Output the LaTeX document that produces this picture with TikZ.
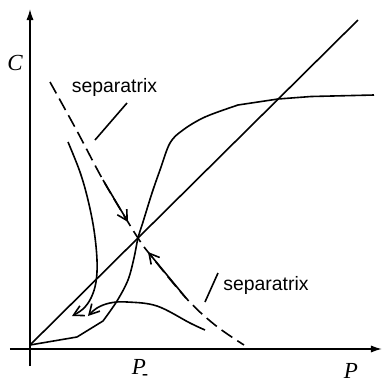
\documentclass[tikz,border=0pt]{standalone}
\usepackage{fontspec}
\setmainfont{Liberation Serif}
\setsansfont{Liberation Sans}
\usetikzlibrary{arrows.meta}

\begin{document}
\begin{tikzpicture}[x=0.5pt, y=-0.5pt, line width=0.75pt, line join=round]
        \tikzstyle{axis} = [line width=0.8pt, -{Latex[length=5.5pt, width=3.6pt]}]
        \tikzstyle{curve} = [line width=0.8pt]
        \tikzstyle{flow} = [curve, -{Straight Barb[length=5pt, width=5.5pt]}]
        \tikzstyle{sep} = [curve, dash pattern=on 6.5pt off 3pt]
        \tikzstyle{tag} = [font=\sffamily\fontsize{9.7}{11}\selectfont, inner sep=0pt, anchor=base]
        \tikzstyle{var} = [font=\itshape\fontsize{11.5}{13}\selectfont, inner sep=0pt, anchor=base]

        \useasboundingbox (0,0) rectangle (382,381);

        \coordinate (origin) at (30,345);
        \coordinate (saddle) at (138,238);

        % axes
        \draw [axis] (30,366) -- (30,9);
        \draw [axis] (10,349) -- (382,349);
        \node (C) [var] at (15,70) {C};
        \node (P) [var] at (351,378) {P};
        \node (Pm) [var] at (140,374) {P\kern-2pt\raisebox{-0.5ex}{\upshape\fontsize{9}{9}\selectfont\textbf{-}}};

        % diagonal
        \draw [curve] (origin) -- (358,20);

        % S-shaped curve
        \draw [curve] (origin) -- (77,337) -- (103,321)
            plot[smooth, tension=0.55] coordinates {(103,321) (117,301) (128,280) (134,258) (saddle) (143,222) (152,193) (160,170) (170,143) (183,130) (205,117) (238,105)}
            -- (278,99) -- (311,96.5) -- (374,95);

        % separatrix
        \draw [sep] plot[smooth, tension=0.6] coordinates {(50,82) (77,131) (103,180) (128,222) (saddle) (148,252) (186,298) (215,325) (244,345)};
        \draw [flow] (103,180) -- (128,222);
        \draw [flow] (186,298) -- (148,252);

        % trajectories
        \draw [flow] plot[smooth, tension=0.6] coordinates {(68,142) (80,172) (88,200) (94,230) (97,260) (96,282) (91,298) (83,309) (72,316)};
        \draw [flow] plot[smooth, tension=0.6] coordinates {(205,330) (190,323) (157,306) (127,302) (110,303) (97,308) (88,316)};

        % labels
        \node (sepA) [tag] at (114.5,92.5) {separatrix};
        \node (sepB) [tag] at (266,290) {separatrix};
        \draw [curve] (127,103) -- (95,140);
        \draw [curve] (218,273) -- (205,302);
    \end{tikzpicture}
\end{document}
